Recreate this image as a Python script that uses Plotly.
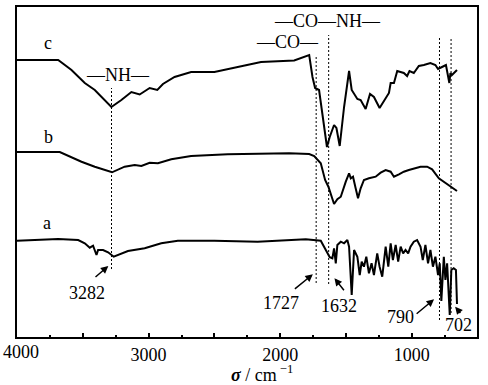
import plotly.graph_objects as go

# ---- data (wavenumber cm^-1, transmittance in arbitrary offset units) ----
wn_c = [4000, 3687, 3586, 3485, 3409, 3283, 3207, 3131, 3068, 2992, 2934, 2891, 2803, 2677, 2500,
        2298, 2146, 1894, 1793, 1780, 1755, 1735, 1705, 1680, 1645, 1624, 1591, 1573, 1548, 1515,
        1477, 1457, 1414, 1389, 1351, 1318, 1288, 1245, 1199, 1174, 1161, 1136, 1111, 1085, 1061,
        1036, 1018, 985, 947, 909, 859, 821, 801, 771, 741, 715, 707, 695, 669, 657]
t_c = [277, 277, 267, 254, 247, 230, 237, 245, 242.5, 249, 247, 253, 260, 265, 265,
       271, 275, 276.5, 281, 282, 260, 249, 247, 224, 190, 200, 212, 209, 191, 230,
       266, 247, 238, 237, 228, 243, 240, 229, 239, 244, 254, 254, 266, 265, 264,
       261, 266, 264, 271, 272, 274, 272, 268, 270, 272, 254, 264, 262, 266, 267]

wn_b = [4000, 3675, 3510, 3409, 3278, 3182, 3106, 3055, 2992, 2929, 2828, 2677, 2399, 2146, 1932,
        1780, 1742, 1692, 1659, 1634, 1616, 1591, 1566, 1540, 1502, 1477, 1464, 1447, 1427, 1409,
        1389, 1364, 1326, 1275, 1237, 1199, 1161, 1136, 1098, 1061, 1023, 985, 934, 884, 846,
        795, 757, 707, 657]
t_b = [185, 185, 175.3, 170.3, 164.7, 170.3, 172, 171, 174.3, 173.7, 177.7, 181, 182.7, 183, 183.7,
       183, 181, 173.7, 157, 150.3, 143.7, 133, 137.7, 140.3, 155.3, 163.7, 158.7, 160.3, 148.7, 138.7,
       148.7, 157, 158.7, 160.3, 164.3, 167, 165.3, 160.3, 162.7, 165.3, 167, 168.7, 170.3, 170.3, 167.7,
       158.7, 155.3, 151, 146]

wn_a = [4000, 3687, 3535, 3485, 3447, 3422, 3396, 3384, 3346, 3308, 3265, 3157, 3030, 2992, 2904,
        2778, 2500, 2172, 1932, 1806, 1692, 1654, 1624, 1604, 1591, 1578, 1566, 1540, 1515, 1490,
        1477, 1457, 1439, 1414, 1396, 1381, 1364, 1346, 1326, 1306, 1288, 1263, 1245, 1225, 1199,
        1179, 1161, 1144, 1123, 1104, 1085, 1066, 1048, 1028, 1010, 985, 960, 934, 917, 897,
        877, 859, 840, 821, 801, 788, 776, 757, 745, 732, 712, 700, 682, 665, 657]
t_a = [96.3, 98, 97, 93.7, 89.3, 91.3, 82, 87, 87, 84.7, 80.3, 86, 88.7, 90.3, 93.7,
       96.3, 96.3, 95.3, 97, 97.7, 96.3, 87, 79.7, 78.7, 88.7, 73.7, 92, 95.3, 93.7, 97,
       90.3, 42, 87, 80.3, 62, 75.3, 70.3, 80.3, 63.7, 73.7, 62, 83.7, 70.3, 60.3, 90.3,
       70.3, 93.7, 77, 92, 75.3, 90.3, 83.7, 87, 83.7, 90.3, 95.3, 97, 90.3, 77, 92,
       73.7, 87, 70.3, 80.3, 62, 73.7, 36, 80.3, 57, 73.7, 22, 67, 68.7, 67, 33]

curve_labels = ["a", "b", "c"]
curve_label_pos = [(3772, 114), (3764, 200), (3767, 294)]

peak_wn = [3282, 1727, 1632, 790, 702]
peak_line_top = [249, 281, 302, 299, 299]
peak_line_bottom = [68, 54, 53, 17, 24]
peak_text = ["3282", "1727", "1632", "790", "702"]
peak_text_pos = [(3468, 44), (1995, 34), (1553, 31), (1089, 20), (646, 12)]
arrow_tail = [(3415, 58.7), (1900, 47), (1507, 45.3), (975, 22), (622, 22.5)]
arrow_head = [(3306, 71), (1752, 62.7), (1588, 58.7), (831, 37.7), (671, 30.3)]

group_text = ["—NH—", "—CO—NH—", "—CO—"]
group_pos = [(3232, 262), (1640, 316), (1944, 295)]

x_tickvals = [4000, 3500, 3000, 2500, 2000, 1500, 1000, 500]
x_ticktext = ["", "", "3000", "", "2000", "", "1000", ""]
first_tick_label = "4000"

FONT = "Liberation Serif, Times New Roman, serif"
FS = 18

fig = go.Figure()
for wn, t in [(wn_a, t_a), (wn_b, t_b), (wn_c, t_c)]:
    fig.add_trace(go.Scatter(x=wn, y=t, mode="lines",
                             line=dict(color="black", width=2), showlegend=False))

for w, y0, y1 in zip(peak_wn, peak_line_bottom, peak_line_top):
    fig.add_trace(go.Scatter(x=[w, w], y=[y0, y1], mode="lines",
                             line=dict(color="black", width=1, dash="2px,2px"),
                             showlegend=False))

ann = []
for lab, (x, y) in zip(curve_labels, curve_label_pos):
    ann.append(dict(x=x, y=y, text=lab, showarrow=False, font=dict(size=FS)))
for lab, (x, y) in zip(group_text, group_pos):
    ann.append(dict(x=x, y=y, text=lab, showarrow=False, font=dict(size=FS)))
for lab, (x, y) in zip(peak_text, peak_text_pos):
    ann.append(dict(x=x, y=y, text=lab, showarrow=False, font=dict(size=FS)))
for (tx, ty), (hx, hy) in zip(arrow_tail, arrow_head):
    ann.append(dict(x=hx, y=hy, ax=tx, ay=ty, axref="x", ayref="y", text="",
                    showarrow=True, arrowhead=2, arrowsize=1, arrowwidth=1.5,
                    arrowcolor="black", standoff=0))
# leftmost tick label (kept inside the page like in the reference)
ann.append(dict(x=x_tickvals[0], y=-0.045, xref="x", yref="paper", xshift=4,
                text=first_tick_label, showarrow=False, font=dict(size=FS), yanchor="middle"))
ann.append(dict(x=2138, y=-0.112, xref="x", yref="paper",
                text="<b><i>σ</i></b> / cm<sup> −1</sup>", showarrow=False,
                font=dict(size=FS), yanchor="middle"))

fig.update_layout(
    width=488, height=385,
    margin=dict(l=17, r=11, t=7, b=48),
    paper_bgcolor="white", plot_bgcolor="white",
    font=dict(family=FONT, size=FS, color="black"),
    annotations=ann,
    xaxis=dict(range=[4000, 505], tickmode="array", tickvals=x_tickvals, ticktext=x_ticktext,
               ticks="inside", ticklen=4, tickwidth=1.5, tickcolor="black",
               showline=True, linecolor="black", linewidth=2, mirror=True,
               showgrid=False, zeroline=False, automargin=False,
               minor=dict(tickmode="linear", tick0=0, dtick=250, ticks="inside",
                          ticklen=2, tickwidth=1.5, tickcolor="black", showgrid=False),
               tickfont=dict(family=FONT, size=FS, color="black")),
    yaxis=dict(range=[0, 330], showticklabels=False, ticks="", showgrid=False, automargin=False,
               zeroline=False, showline=True, linecolor="black", linewidth=2, mirror=True),
)

fig.write_html("out.html", config={"displayModeBar": False},
               post_script="document.body.style.margin='0';document.body.style.overflow='hidden';")
